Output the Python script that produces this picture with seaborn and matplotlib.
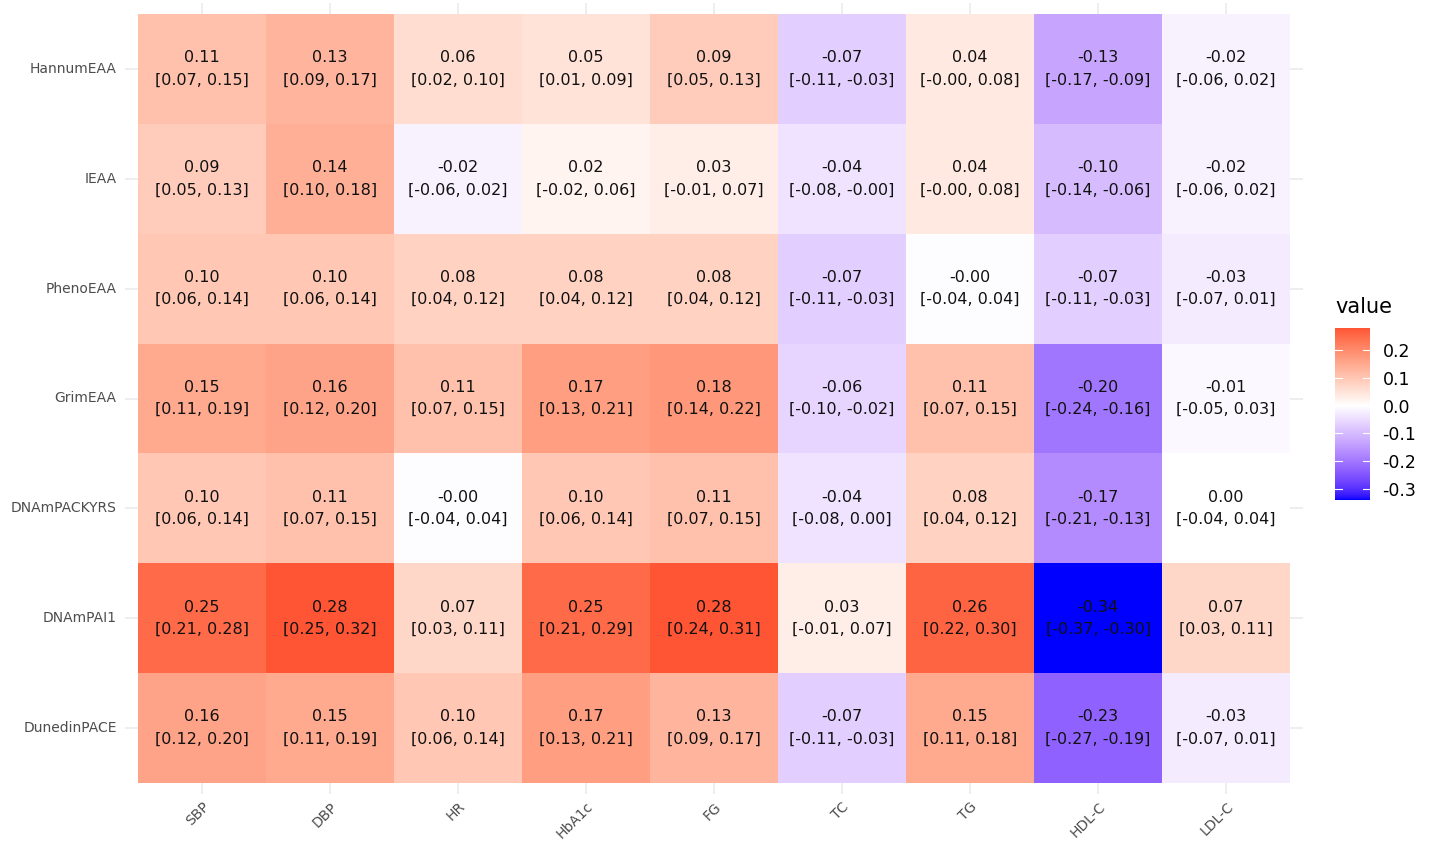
"""
Heatmap of epigenetic age acceleration vs cardiometabolic traits,
with estimate and 95% CI written in each cell.
"""

import numpy as np
import pandas as pd
import matplotlib
matplotlib.use('Agg')
import matplotlib.pyplot as plt
from matplotlib.colors import ListedColormap
import seaborn as sns

clocks = ['HannumEAA', 'IEAA', 'PhenoEAA', 'GrimEAA', 'DNAmPACKYRS', 'DNAmPAI1', 'DunedinPACE']
traits = ['SBP', 'DBP', 'HR', 'HbA1c', 'FG', 'TC', 'TG', 'HDL-C', 'LDL-C']

# estimates (rows = clocks, columns = traits)
est = [
    [0.11, 0.13, 0.06, 0.05, 0.09, -0.07, 0.04, -0.13, -0.02],
    [0.09, 0.14, -0.02, 0.02, 0.03, -0.04, 0.04, -0.10, -0.02],
    [0.10, 0.10, 0.08, 0.08, 0.08, -0.07, -0.004, -0.07, -0.03],
    [0.15, 0.16, 0.11, 0.17, 0.18, -0.06, 0.11, -0.20, -0.01],
    [0.10, 0.11, -0.004, 0.10, 0.11, -0.04, 0.08, -0.17, 0.00],
    [0.25, 0.28, 0.07, 0.25, 0.28, 0.03, 0.26, -0.34, 0.07],
    [0.16, 0.15, 0.10, 0.17, 0.13, -0.07, 0.15, -0.23, -0.03],
]
ci_low = [
    [0.07, 0.09, 0.02, 0.01, 0.05, -0.11, -0.004, -0.17, -0.06],
    [0.05, 0.10, -0.06, -0.02, -0.01, -0.08, -0.004, -0.14, -0.06],
    [0.06, 0.06, 0.04, 0.04, 0.04, -0.11, -0.04, -0.11, -0.07],
    [0.11, 0.12, 0.07, 0.13, 0.14, -0.10, 0.07, -0.24, -0.05],
    [0.06, 0.07, -0.04, 0.06, 0.07, -0.08, 0.04, -0.21, -0.04],
    [0.21, 0.25, 0.03, 0.21, 0.24, -0.01, 0.22, -0.37, 0.03],
    [0.12, 0.11, 0.06, 0.13, 0.09, -0.11, 0.11, -0.27, -0.07],
]
ci_high = [
    [0.15, 0.17, 0.10, 0.09, 0.13, -0.03, 0.08, -0.09, 0.02],
    [0.13, 0.18, 0.02, 0.06, 0.07, -0.004, 0.08, -0.06, 0.02],
    [0.14, 0.14, 0.12, 0.12, 0.12, -0.03, 0.04, -0.03, 0.01],
    [0.19, 0.20, 0.15, 0.21, 0.22, -0.02, 0.15, -0.16, 0.03],
    [0.14, 0.15, 0.04, 0.14, 0.15, 0.00, 0.12, -0.13, 0.04],
    [0.28, 0.32, 0.11, 0.29, 0.31, 0.07, 0.30, -0.30, 0.11],
    [0.20, 0.19, 0.14, 0.21, 0.17, -0.03, 0.18, -0.19, 0.01],
]


# --- Lab interpolation (like ggplot's scale_fill_gradient2) ---
def srgb_to_lab(rgb):
    rgb = np.asarray(rgb, float)
    lin = np.where(rgb <= 0.04045, rgb / 12.92, ((rgb + 0.055) / 1.055) ** 2.4)
    m = np.array([[0.4124, 0.3576, 0.1805],
                  [0.2126, 0.7152, 0.0722],
                  [0.0193, 0.1192, 0.9505]])
    xyz = m @ lin / np.array([0.95047, 1.0, 1.08883])
    f = np.where(xyz > 0.008856, np.cbrt(xyz), 7.787 * xyz + 16 / 116)
    return np.array([116 * f[1] - 16, 500 * (f[0] - f[1]), 200 * (f[1] - f[2])])


def lab_to_srgb(lab):
    fy = (lab[0] + 16) / 116
    fx = fy + lab[1] / 500
    fz = fy - lab[2] / 200
    f = np.array([fx, fy, fz])
    xyz = np.where(f ** 3 > 0.008856, f ** 3, (f - 16 / 116) / 7.787)
    xyz = xyz * np.array([0.95047, 1.0, 1.08883])
    m = np.array([[3.2406, -1.5372, -0.4986],
                  [-0.9689, 1.8758, 0.0415],
                  [0.0557, -0.2040, 1.0570]])
    lin = m @ xyz
    rgb = np.where(lin <= 0.0031308, 12.92 * lin, 1.055 * np.clip(lin, 0, None) ** (1 / 2.4) - 0.055)
    return np.clip(rgb, 0, 1)


low, mid, high = srgb_to_lab([0, 0, 1]), srgb_to_lab([1, 1, 1]), srgb_to_lab([1, 0, 0])

vals = np.array(est)
vmin, vmax = vals.min(), vals.max()
extent = max(abs(vmin), abs(vmax))
cols = []
for v in np.linspace(vmin, vmax, 256):
    t = v / extent  # -1..1
    if t < 0:
        lab = mid + (low - mid) * (-t)
    else:
        lab = mid + (high - mid) * t
    cols.append(lab_to_srgb(lab))
cmap = ListedColormap(cols)

df = pd.DataFrame(vals, index=clocks, columns=traits)
labels = np.array([[f'{est[i][j]:.2f}\n[{ci_low[i][j]:.2f}, {ci_high[i][j]:.2f}]'
                    for j in range(len(traits))] for i in range(len(clocks))])

W, H = 1433, 844
fig = plt.figure(figsize=(W / 100, H / 100), dpi=100)
ax = fig.add_axes([125 / W, 1 - 794 / H, 1178 / W, 791 / H])
cax = fig.add_axes([1335 / W, 1 - 500 / H, 35 / W, 172 / H])

sns.heatmap(df, ax=ax, cmap=cmap, vmin=vmin, vmax=vmax, annot=labels, fmt='',
            annot_kws={'fontsize': 11.5, 'color': '#111111', 'linespacing': 1.6},
            cbar_ax=cax, linewidths=0)

ax.set_xlim(-0.1, len(traits) + 0.1)
ax.set_ylim(len(clocks) + 0.1, -0.1)
ax.set_axisbelow(True)
ax.grid(True, color='#EBEBEB', linewidth=1.2)
for s in ax.spines.values():
    s.set_visible(False)
ax.tick_params(length=0, colors='#4D4D4D', labelsize=10)
ax.tick_params(axis='y', pad=6)
ax.tick_params(axis='x', pad=4)
ax.set_xticklabels(traits, rotation=45, ha='right', va='top', rotation_mode='anchor')
ax.set_yticklabels(clocks, rotation=0)
ax.set_xlabel('')
ax.set_ylabel('')

# colorbar in ggplot style
cbar = ax.collections[0].colorbar
cbar.outline.set_visible(False)
cbar.set_ticks([-0.3, -0.2, -0.1, 0.0, 0.1, 0.2])
cbar.set_ticklabels(['-0.3', '-0.2', '-0.1', '0.0', '0.1', '0.2'])
cax.tick_params(length=0, labelsize=12.5, pad=9, colors='black')
for tk in [-0.3, -0.2, -0.1, 0.0, 0.1, 0.2]:
    cax.plot([0, 0.2], [tk, tk], color='white', lw=0.8, transform=cax.get_yaxis_transform())
    cax.plot([0.8, 1], [tk, tk], color='white', lw=0.8, transform=cax.get_yaxis_transform())
fig.text(1335 / W, 1 - 307 / H, 'value', fontsize=15, ha='left', va='center')

plt.savefig('out.png', dpi=100)
